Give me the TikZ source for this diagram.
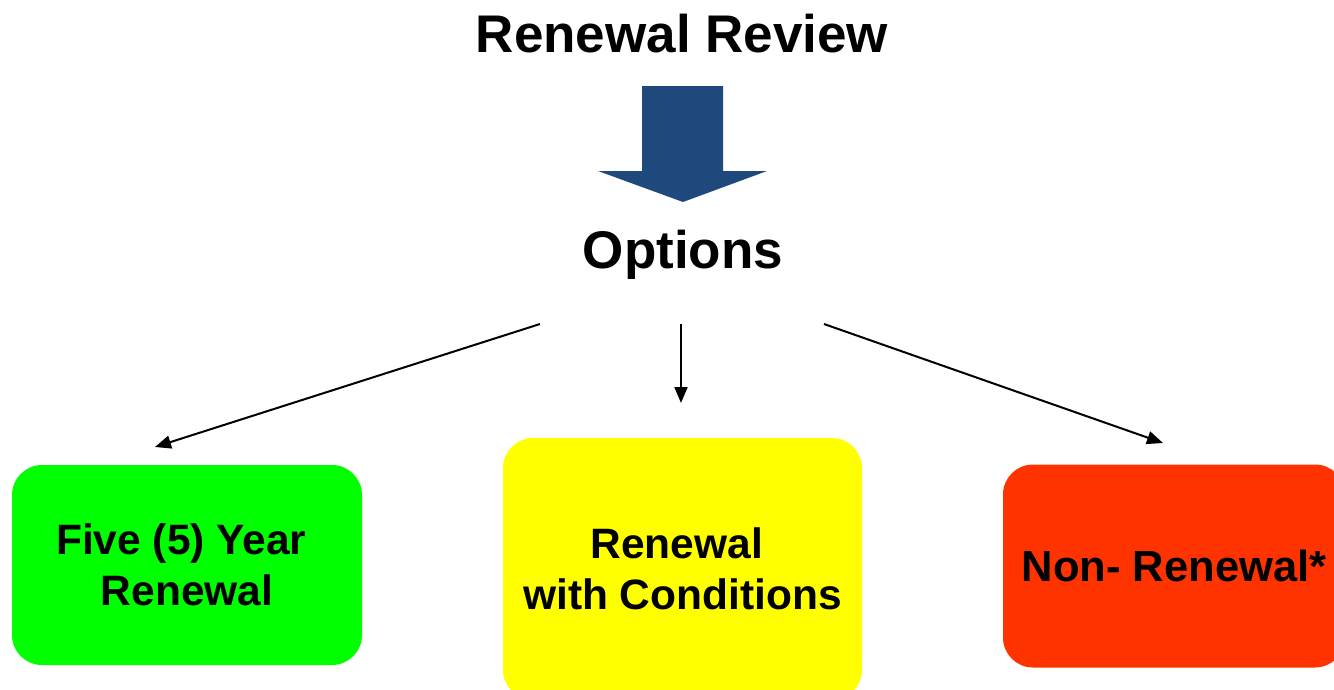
\documentclass[tikz,border=0pt]{standalone}
\usepackage{fontspec}
\setmainfont{Liberation Sans}
\usetikzlibrary{arrows.meta}
\definecolor{blockblue}{HTML}{1F497D}
\definecolor{boxgreen}{HTML}{00FF00}
\definecolor{boxyellow}{HTML}{FFFF00}
\definecolor{boxred}{HTML}{FF3300}
\tikzset{
  headtext/.style={font=\fontsize{53}{63}\selectfont\bfseries, inner sep=0pt, anchor=base},
  optbox/.style={rounded corners=30pt, inner sep=0pt, align=center, font=\fontsize{42.5}{51}\selectfont\bfseries},
  thinarrow/.style={line width=2pt, -{Triangle[length=16pt,width=13pt]}}
}
\begin{document}
\begin{tikzpicture}[x=1pt,y=-1pt]
\useasboundingbox (0,0) rectangle (1334,689);
\clip (0,0) rectangle (1334,689);
\node[headtext] (title) at (682,52) {Renewal Review};
\fill[blockblue] (642,86) -- (723,86) -- (723,171) -- (767,171) -- (683,202) -- (598,171) -- (642,171) -- cycle;
\node[headtext] (opt) at (683,268) {Options};
\node[optbox, fill=boxgreen, minimum width=350pt, minimum height=200pt] (green) at (187,565) {Five (5) Year\hspace*{0.27em}\\Renewal};
\node[optbox, fill=boxyellow, minimum width=359pt, minimum height=262pt] (yellow) at (682.5,569) {Renewal\hspace*{0.27em}\\with Conditions};
\node[optbox, fill=boxred, minimum width=342pt, minimum height=203pt, font=\fontsize{43.5}{52}\selectfont\bfseries] (red) at (1174,566) {Non- Renewal*};
\coordinate (s1) at (540,324);
\coordinate (s2) at (681,324);
\coordinate (s3) at (824,324);
\coordinate (e1) at (155,447);
\coordinate (e2) at (681,403);
\coordinate (e3) at (1163,443);
\draw[thinarrow] (s1) -- (e1);
\draw[thinarrow] (s2) -- (e2);
\draw[thinarrow] (s3) -- (e3);
\end{tikzpicture}
\end{document}
